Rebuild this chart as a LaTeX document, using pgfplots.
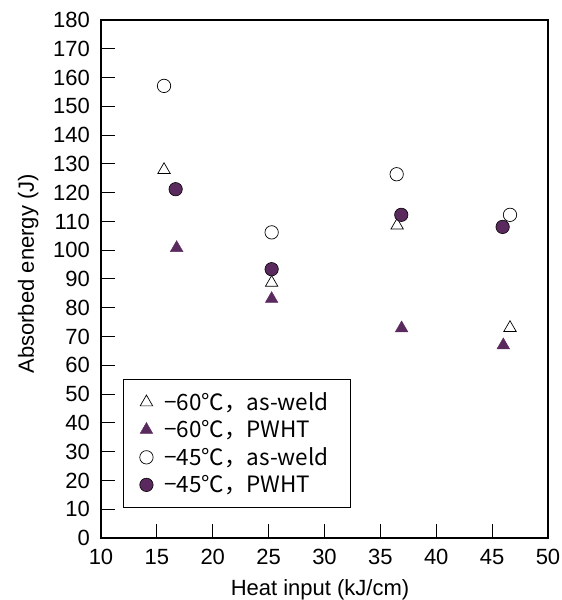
\documentclass[border=0pt]{standalone}
\usepackage{pgfplots}
\pgfplotsset{compat=1.18}
\usepackage{fontspec}
\setmainfont{Liberation Sans}
\newfontfamily\cjk{Noto Sans CJK JP}
\definecolor{pur}{HTML}{5A2A5E}
\begin{document}
\begin{tikzpicture}
\begin{axis}[
  at={(0,0)}, anchor=south west,
  scale only axis,
  width=447pt, height=518pt,
  xmin=10, xmax=50, ymin=0, ymax=180,
  xtick={10,15,...,50}, ytick={0,10,...,180},
  xtick pos=left, ytick pos=left,
  tick align=inside,
  major tick length=14pt,
  axis line style={line width=1.8pt},
  tick style={line width=1pt, black},
  /pgf/number format/assume math mode=true,
  ticklabel style={font=\fontsize{22}{24}\selectfont, inner sep=0pt},
  xticklabel style={anchor=base, yshift=-26pt},
  yticklabel style={anchor=east, xshift=-11pt},
  xlabel={Heat input (kJ/cm)},
  ylabel={Absorbed energy (J)},
  label style={font=\fontsize{22}{24}\selectfont, inner sep=0pt},
  xlabel style={at={(axis description cs:0.49,0)}, anchor=base, yshift=-57pt},
  ylabel style={at={(axis description cs:-0.163,0.51)}, anchor=center},
  legend style={at={(axis cs:12,55.2)}, anchor=north west, draw=black, line width=0.8pt,
    font=\cjk\fontsize{22.5}{27}\selectfont, row sep=4.5pt, column sep=9pt,
    inner xsep=16pt, inner ysep=11pt},
  legend cell align=left,
  every axis legend/.append style={text width=168pt},
]
\addplot[only marks, mark=triangle, mark size=7.2pt, mark options={draw=black, fill=white, line width=0.7pt}]
  coordinates {(15.64,127.9) (25.27,88.7) (36.5,108.6) (46.6,73.0)};
\addlegendentry{−60℃，as-weld}
\addplot[only marks, mark=triangle*, mark size=7.2pt, mark options={draw=pur, fill=pur, line width=0.5pt}]
  coordinates {(16.77,100.8) (25.27,83.1) (36.9,72.9) (46.0,67.0)};
\addlegendentry{−60℃，PWHT}
\addplot[only marks, mark=o, mark size=6.7pt, mark options={draw=black, fill=white, line width=0.7pt}]
  coordinates {(15.64,157.1) (25.27,106.2) (36.46,126.4) (46.6,112.3)};
\addlegendentry{−45℃，as-weld}
\addplot[only marks, mark=*, mark size=6.7pt, mark options={draw=black, fill=pur, line width=0.6pt}]
  coordinates {(16.68,121.2) (25.27,93.4) (36.87,112.3) (45.94,108.1)};
\addlegendentry{−45℃，PWHT}
\end{axis}
\pgfresetboundingbox
\path[use as bounding box] (-101pt,-62pt) rectangle (461pt,538pt);
\end{tikzpicture}
\end{document}
